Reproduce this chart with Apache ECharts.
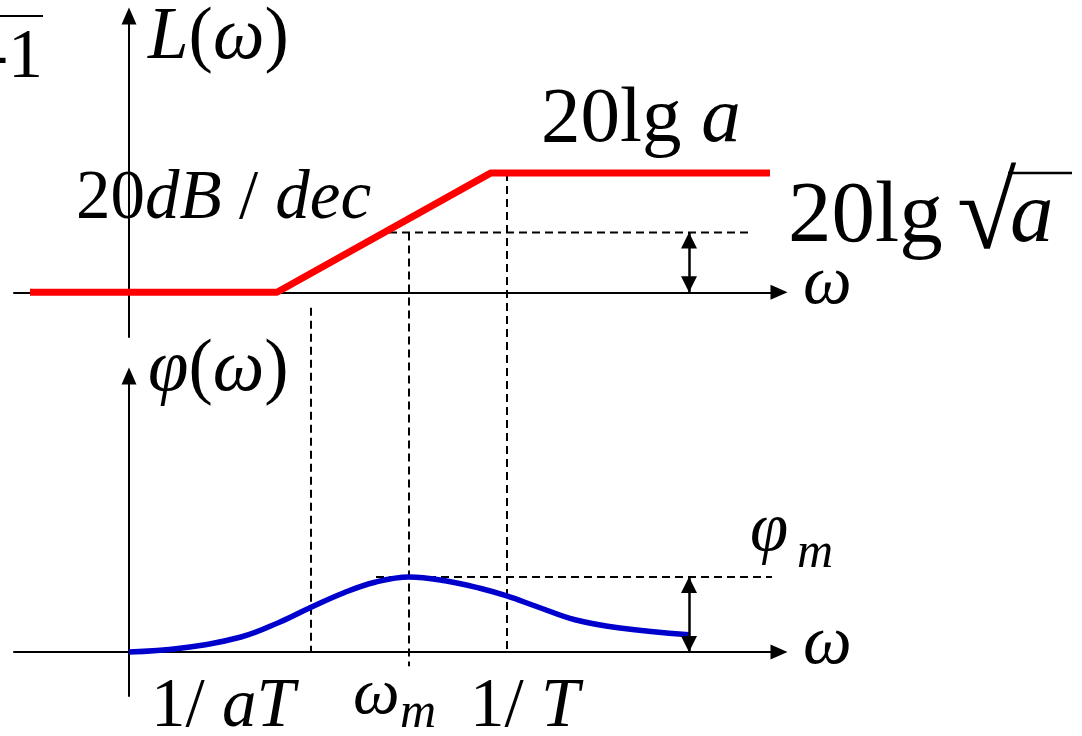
<!DOCTYPE html>
<html>
<head>
<meta charset="utf-8">
<script src="https://cdn.jsdelivr.net/npm/echarts@6/dist/echarts.min.js"></script>
<style>
    html, body { margin: 0; padding: 0; background: #fff; }
    #chart { width: 1082px; height: 736px; }
</style>
</head>
<body>
<div id="chart"></div>
<script>
// 幅频渐近线 (横轴 lgω, 纵轴以 20lg√a 为单位)
const ampX = [-0.99, 1.48, 3.62, 6.41];
const ampY = [0, 0, 2, 2];

// 相频曲线 (纵轴以 φm 为单位)
const phaseX = [0, 0.51, 1.12, 1.51, 1.81, 2.15, 2.46, 2.80, 3.16, 3.51, 3.77, 4.11, 4.46, 4.91, 5.60];
const phaseY = [0, 0.05, 0.2, 0.4, 0.59, 0.79, 0.93, 1.0, 0.95, 0.85, 0.75, 0.59, 0.43, 0.32, 0.23];

// 竖直虚线: 1/aT, ωm, 1/T
const guideX = [1.82, 2.80, 3.78];
const guideTopL = [-0.26, 1, 2];       // 上图起点
const guideBottomPhi = [0, -0.19, 0];  // 下图终点

// 水平虚线与双箭头
const halfGainX = [2.60, 6.21];   // 20lg√a 处
const phiMaxX = [2.47, 6.43];     // φm 处
const arrowX = 5.60;

// 坐标范围
const xRange = [-1.15, 6.50];
const ampRange = [-0.75, 4.63];
const phaseRange = [-0.587, 3.68];

const FONT = "'Liberation Serif', 'Times New Roman', serif";

document.addEventListener('DOMContentLoaded', function() {
    initChart();
});

function zip(xs, ys) {
    return xs.map((x, i) => [x, ys[i]]);
}

function axisOf(gridIndex, range) {
    return {
        type: 'value',
        gridIndex: gridIndex,
        min: range[0],
        max: range[1],
        axisLine: {
            show: true,
            onZero: true,
            symbol: ['none', 'triangle'],
            symbolSize: [15, 17],
            lineStyle: { color: '#000', width: 2 }
        },
        axisTick: { show: false },
        axisLabel: { show: false },
        splitLine: { show: false }
    };
}

const dashed = { color: '#000', width: 2, type: [8, 5] };

function doubleArrow(top) {
    return {
        silent: true,
        symbol: ['triangle', 'triangle'],
        symbolSize: 16,
        symbolOffset: [[0, '50%'], [0, '50%']],
        lineStyle: { color: '#000', width: 2.5, type: 'solid' },
        label: { show: false },
        data: [[{ coord: [arrowX, 0] }, { coord: [arrowX, top] }]]
    };
}

// 文本: parts = [[字符串, 是否斜体], ...], baseline 为基线位置
function mathText(x, baseline, size, parts, align) {
    let text = '';
    parts.forEach(p => { text += '{' + (p[1] ? 'i' : 'r') + '|' + p[0] + '}'; });
    return {
        type: 'text',
        x: x,
        y: baseline - 0.34 * size,
        style: {
            text: text,
            align: align || 'left',
            verticalAlign: 'middle',
            rich: {
                i: { fontFamily: FONT, fontSize: size, fontStyle: 'italic', fill: '#000' },
                r: { fontFamily: FONT, fontSize: size, fill: '#000' }
            }
        }
    };
}

function initChart() {
    const chart = echarts.init(document.getElementById('chart'));

    const graphics = [
        mathText(148, 64, 73, [['L', 1], ['(', 0], ['ω', 1], [')', 0]]),
        mathText(76, 223, 69, [['20', 0], ['dB', 1], [' / ', 0], ['dec', 1]]),
        mathText(541, 147, 79, [['20lg ', 0], ['a', 1]]),
        mathText(788, 248, 87, [['20lg', 0]]),
        mathText(957, 256, 108, [['√', 0]]),
        mathText(1010, 248, 87, [['a', 1]]),
        mathText(148, 396, 73, [['φ', 1], ['(', 0], ['ω', 1], [')', 0]]),
        mathText(803, 308, 69, [['ω', 1]]),
        mathText(803, 668, 69, [['ω', 1]]),
        mathText(750, 555, 69, [['φ', 1]]),
        mathText(797, 571, 50, [['m', 1]]),
        mathText(151, 731, 69, [['1/ ', 0], ['aT', 1]]),
        mathText(353, 718, 66, [['ω', 1]]),
        mathText(400, 731, 50, [['m', 1]]),
        mathText(470, 731, 69, [['1/ ', 0], ['T', 1]]),
        mathText(43, 82, 70, [['-1', 0]], 'right'),
        { type: 'line', shape: { x1: 0, y1: 16, x2: 43, y2: 16 }, style: { stroke: '#000', lineWidth: 2 } },
        { type: 'line', shape: { x1: 1008, y1: 173, x2: 1072, y2: 173 }, style: { stroke: '#000', lineWidth: 2.5 } }
    ];

    const guides = guideX.map((x, i) => ({
        id: 'guide' + i,
        type: 'line',
        xAxisIndex: 0,
        yAxisIndex: 0,
        data: [[x, guideTopL[i]], [x, guideTopL[i]]],
        symbol: 'none',
        clip: false,
        lineStyle: dashed,
        z: 1
    }));

    const option = {
        animation: false,
        backgroundColor: '#fff',
        grid: [
            { left: 14, width: 765, top: 16, height: 321 },
            { left: 14, width: 765, top: 376, height: 320 }
        ],
        xAxis: [axisOf(0, xRange), axisOf(1, xRange)],
        yAxis: [axisOf(0, ampRange), axisOf(1, phaseRange)],
        graphic: graphics,
        series: [
            {
                id: 'gain',
                type: 'line',
                xAxisIndex: 0,
                yAxisIndex: 0,
                data: zip(ampX, ampY),
                symbol: 'none',
                lineStyle: { color: '#ff0000', width: 7, cap: 'butt' },
                z: 3
            },
            {
                id: 'phase',
                type: 'line',
                xAxisIndex: 1,
                yAxisIndex: 1,
                data: zip(phaseX, phaseY),
                symbol: 'none',
                smooth: 0.4,
                lineStyle: { color: '#0000cc', width: 5.5 },
                z: 3
            },
            {
                id: 'halfGain',
                type: 'line',
                xAxisIndex: 0,
                yAxisIndex: 0,
                data: halfGainX.map(x => [x, 1]),
                symbol: 'none',
                lineStyle: dashed,
                markLine: doubleArrow(1),
                z: 1
            },
            {
                id: 'phiMax',
                type: 'line',
                xAxisIndex: 1,
                yAxisIndex: 1,
                data: phiMaxX.map(x => [x, 1]),
                symbol: 'none',
                lineStyle: dashed,
                markLine: doubleArrow(1),
                z: 1
            }
        ].concat(guides)
    };
    chart.setOption(option);

    // 竖直虚线贯穿两图: 把下图终点换算到上图坐标
    const update = guideX.map((x, i) => {
        const px = chart.convertToPixel({ gridIndex: 1 }, [x, guideBottomPhi[i]]);
        const end = chart.convertFromPixel({ gridIndex: 0 }, px);
        return { id: 'guide' + i, data: [[x, guideTopL[i]], [x, end[1]]] };
    });
    chart.setOption({ series: update });
}
</script>
</body>
</html>
